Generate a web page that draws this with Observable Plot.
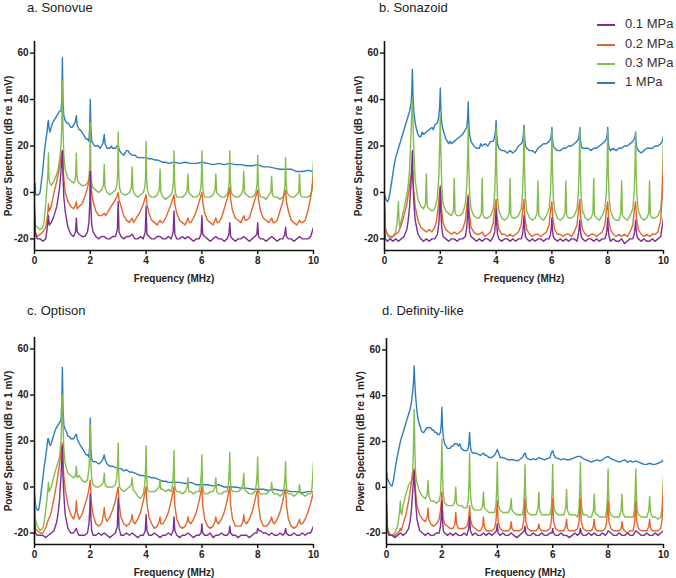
<!DOCTYPE html>
<html>
<head>
<meta charset="utf-8">
<script src="https://cdn.jsdelivr.net/npm/d3@7"></script>
<script src="https://cdn.jsdelivr.net/npm/@observablehq/plot@0.6"></script>
<style>
  html, body { margin: 0; padding: 0; background: #fff; }
  #fig { position: relative; width: 676px; height: 578px; background: #fff; overflow: hidden;
         font-family: "Liberation Sans", Arial, sans-serif; }
  .ttl { position: absolute; font-size: 13px; color: #222; line-height: 13px; white-space: nowrap; }
  .panel { position: absolute; }
  .leg { position: absolute; font-size: 13px; color: #333; line-height: 13px; white-space: nowrap; }
  .leg span { display: inline-block; width: 18px; height: 2px; vertical-align: middle; margin-right: 10px; }
</style>
</head>
<body>
<div id="fig"></div>
<script>
// ---------- labels / ticks ----------
const panelTitles = ["a. Sonovue", "b. Sonazoid", "c. Optison", "d. Definity-like"];
const seriesLabels = ["0.1 MPa", "0.2 MPa", "0.3 MPa", "1 MPa"];
const seriesColors = ["#7d2f8f", "#e2662c", "#83bd4d", "#2f7cbd"];
const xTicks = [0, 2, 4, 6, 8, 10];
const yTicks = [-20, 0, 20, 40, 60];
const xLabel = "Frequency (MHz)";
const yLabel = "Power Spectrum (dB re 1 mV)";

// ---------- a. Sonovue ----------
const sonovue01 = [[0,-8],[0.03,-18],[0.1,-20],[0.2,-20],[0.3,-21],[0.4,-20],[0.45,-16],[0.5,-10],[0.53,-14],[0.6,-13],[0.7,-10],[0.8,-6],[0.9,2],[0.95,9],[1.0,18],[1.03,4],[1.05,-2],[1.1,-8],[1.2,-15],[1.3,-18],[1.4,-19],[1.47,-17],[1.5,-11],[1.53,-17],[1.6,-18],[1.7,-19],[1.8,-19],[1.9,-17],[1.95,-13],[1.98,-5],[2.0,9],[2.02,-6],[2.05,-14],[2.1,-17],[2.2,-19],[2.3,-20],[2.4,-19],[2.5,-19],[2.6,-20],[2.7,-20],[2.8,-19],[2.9,-19],[2.97,-16],[3.0,-4],[3.03,-17],[3.1,-19],[3.2,-20],[3.3,-19],[3.4,-19],[3.5,-18],[3.6,-20],[3.7,-20],[3.8,-19],[3.9,-20],[3.97,-17],[4.0,-6],[4.03,-18],[4.1,-19],[4.2,-20],[4.3,-20],[4.4,-19],[4.5,-19],[4.6,-20],[4.7,-20],[4.8,-19],[4.9,-20],[4.97,-17],[5.0,-8],[5.03,-18],[5.1,-20],[5.2,-20],[5.3,-19],[5.4,-20],[5.5,-19],[5.6,-20],[5.7,-21],[5.8,-20],[5.9,-20],[5.97,-18],[6.0,-10],[6.03,-18],[6.1,-19],[6.2,-20],[6.3,-21],[6.4,-20],[6.5,-19],[6.6,-20],[6.7,-20],[6.8,-21],[6.9,-20],[6.97,-18],[7.0,-13],[7.03,-19],[7.1,-20],[7.2,-21],[7.3,-20],[7.4,-20],[7.5,-19],[7.6,-20],[7.7,-21],[7.8,-20],[7.9,-19],[7.97,-18],[8.0,-13],[8.03,-19],[8.1,-20],[8.2,-20],[8.3,-21],[8.4,-20],[8.5,-19],[8.6,-20],[8.7,-21],[8.8,-20],[8.9,-20],[8.97,-18],[9.0,-15],[9.03,-19],[9.1,-20],[9.2,-20],[9.3,-21],[9.4,-20],[9.5,-19],[9.6,-20],[9.7,-20],[9.8,-20],[9.9,-19],[10,-15]];
const sonovue02 = [[0,-10],[0.03,-17],[0.1,-19],[0.2,-18],[0.3,-17],[0.4,-15],[0.47,-10],[0.5,-5],[0.53,-8],[0.6,-6],[0.65,-3],[0.7,0],[0.8,5],[0.9,11],[0.95,15],[1.0,18],[1.03,10],[1.05,6],[1.1,0],[1.2,-4],[1.3,-6],[1.4,-7],[1.45,-6],[1.5,-4],[1.53,-7],[1.6,-6],[1.7,-5],[1.8,-2],[1.9,2],[1.95,5],[2.0,9],[2.03,3],[2.05,0],[2.1,-4],[2.2,-8],[2.3,-10],[2.4,-10],[2.5,-9],[2.55,-10],[2.6,-9],[2.7,-7],[2.8,-5],[2.9,-3],[2.95,-2],[3.0,0],[3.03,-3],[3.1,-6],[3.2,-10],[3.3,-12],[3.4,-13],[3.5,-11],[3.55,-13],[3.6,-12],[3.7,-10],[3.8,-8],[3.9,-5],[3.95,-3],[4.0,-1],[4.03,-5],[4.1,-9],[4.2,-12],[4.3,-13],[4.4,-14],[4.5,-12],[4.55,-13],[4.6,-13],[4.7,-11],[4.8,-8],[4.9,-5],[4.95,-3],[5.0,-1],[5.03,-5],[5.1,-9],[5.2,-12],[5.3,-13],[5.4,-14],[5.5,-11],[5.55,-13],[5.6,-13],[5.7,-11],[5.8,-8],[5.9,-4],[5.95,-2],[6.0,0],[6.03,-4],[6.1,-9],[6.2,-12],[6.3,-13],[6.4,-14],[6.5,-11],[6.55,-13],[6.6,-13],[6.7,-11],[6.8,-7],[6.9,-3],[6.95,-1],[7.0,2],[7.03,-3],[7.1,-8],[7.2,-11],[7.3,-12],[7.4,-13],[7.5,-10],[7.55,-12],[7.6,-12],[7.7,-11],[7.8,-7],[7.9,-3],[7.95,-1],[8.0,1],[8.03,-3],[8.1,-8],[8.2,-11],[8.3,-12],[8.4,-13],[8.5,-11],[8.55,-13],[8.6,-13],[8.7,-12],[8.8,-8],[8.9,-4],[8.95,-1],[9.0,1],[9.03,-4],[9.1,-8],[9.2,-12],[9.3,-13],[9.4,-14],[9.5,-12],[9.55,-13],[9.6,-13],[9.7,-12],[9.8,-8],[9.9,-2],[10,7]];
const sonovue03 = [[0,-5],[0.03,-14],[0.1,-15],[0.2,-16],[0.3,-15],[0.35,-12],[0.4,-5],[0.45,3],[0.48,8],[0.5,17],[0.52,6],[0.55,4],[0.6,3],[0.7,5],[0.8,8],[0.85,10],[0.9,14],[0.95,20],[0.98,30],[1.0,48],[1.02,28],[1.05,16],[1.1,10],[1.2,6],[1.3,5],[1.4,4],[1.45,5],[1.48,8],[1.5,17],[1.52,7],[1.55,5],[1.6,4],[1.7,3],[1.8,3],[1.9,4],[1.95,6],[1.98,12],[2.0,30],[2.02,10],[2.05,4],[2.1,2],[2.2,1],[2.3,0],[2.4,1],[2.47,3],[2.5,12],[2.53,2],[2.6,0],[2.7,-1],[2.8,0],[2.9,1],[2.95,3],[2.98,8],[3.0,26],[3.02,8],[3.05,2],[3.1,0],[3.2,-1],[3.3,-1],[3.4,0],[3.47,2],[3.5,11],[3.53,1],[3.6,-1],[3.7,-2],[3.8,-1],[3.9,0],[3.95,2],[3.98,6],[4.0,22],[4.02,6],[4.05,1],[4.1,-1],[4.2,-2],[4.3,-2],[4.4,-1],[4.47,1],[4.5,10],[4.53,0],[4.6,-2],[4.7,-3],[4.8,-2],[4.9,-1],[4.95,1],[4.98,5],[5.0,18],[5.02,5],[5.05,0],[5.1,-2],[5.2,-2],[5.3,-2],[5.4,-1],[5.47,1],[5.5,8],[5.53,0],[5.6,-1],[5.7,-2],[5.8,-2],[5.9,-1],[5.95,1],[5.98,5],[6.0,18],[6.02,5],[6.05,0],[6.1,-2],[6.2,-2],[6.3,-2],[6.4,-1],[6.47,1],[6.5,8],[6.53,0],[6.6,-1],[6.7,-2],[6.8,-2],[6.9,-1],[6.95,1],[6.98,5],[7.0,18],[7.02,5],[7.05,0],[7.1,-1],[7.2,-2],[7.3,-2],[7.4,-1],[7.47,1],[7.5,9],[7.53,0],[7.6,-1],[7.7,-2],[7.8,-2],[7.9,-1],[7.95,1],[7.98,4],[8.0,16],[8.02,4],[8.05,0],[8.1,-2],[8.2,-2],[8.3,-3],[8.4,-1],[8.47,0],[8.5,7],[8.53,-1],[8.6,-2],[8.7,-2],[8.8,-3],[8.9,-2],[8.95,0],[8.98,4],[9.0,15],[9.02,4],[9.05,0],[9.1,-1],[9.2,-2],[9.3,-2],[9.4,-1],[9.47,0],[9.5,8],[9.53,-1],[9.6,-2],[9.7,-2],[9.8,-2],[9.9,-1],[9.95,1],[10,14]];
const sonovue1 = [[0,-1],[0.02,4],[0.04,-1],[0.1,-1],[0.15,-1],[0.2,0],[0.25,5],[0.3,10],[0.35,17],[0.4,22],[0.45,26],[0.48,30],[0.5,31],[0.52,28],[0.55,26],[0.6,28],[0.65,30],[0.7,31],[0.75,32],[0.8,33],[0.85,34],[0.9,35],[0.95,35],[0.98,40],[1.0,58],[1.02,40],[1.05,33],[1.1,31],[1.15,30],[1.2,30],[1.25,29],[1.3,28],[1.35,28],[1.4,29],[1.45,30],[1.5,33],[1.53,29],[1.6,27],[1.65,27],[1.7,26],[1.75,25],[1.8,24],[1.85,23],[1.9,23],[1.95,22],[1.98,28],[2.0,40],[2.02,28],[2.05,22],[2.1,21],[2.15,20],[2.2,20],[2.3,20],[2.35,19],[2.4,20],[2.45,21],[2.5,25],[2.53,21],[2.6,19],[2.7,19],[2.75,20],[2.8,19],[2.9,19],[2.95,20],[3.0,20],[3.05,18],[3.1,17],[3.2,16],[3.25,17],[3.3,18],[3.35,18],[3.4,17],[3.5,16],[3.6,16],[3.7,15],[3.8,15],[3.9,15],[4.0,15],[4.1,14.5],[4.2,14.5],[4.3,14],[4.4,14],[4.5,13.5],[4.6,13],[4.7,13],[4.8,12.5],[5.0,13],[5.2,12.5],[5.4,13],[5.6,12.5],[5.8,12.5],[6.0,13],[6.2,12.5],[6.4,12],[6.6,12.5],[6.8,12],[7.0,12.5],[7.2,12],[7.4,12],[7.6,11.5],[7.8,11.5],[8.0,12],[8.2,11],[8.4,11],[8.6,10.5],[8.8,10],[9.0,10],[9.2,10],[9.4,9],[9.6,9],[9.8,9.5],[10,9]];

// ---------- b. Sonazoid ----------
const sonazoid01 = [[0,-16],[0.03,-20],[0.1,-21],[0.2,-20],[0.3,-21],[0.4,-20],[0.5,-21],[0.6,-20],[0.7,-19],[0.8,-16],[0.85,-12],[0.9,-6],[0.95,4],[1.0,18],[1.02,6],[1.05,-4],[1.1,-12],[1.2,-18],[1.3,-20],[1.4,-21],[1.5,-20],[1.6,-21],[1.7,-20],[1.8,-20],[1.9,-18],[1.95,-13],[1.98,-6],[2.0,2],[2.02,-8],[2.05,-15],[2.1,-19],[2.2,-20],[2.3,-21],[2.4,-20],[2.5,-20],[2.6,-21],[2.7,-20],[2.8,-20],[2.9,-19],[2.95,-15],[2.98,-9],[3.0,-2],[3.02,-10],[3.05,-17],[3.1,-19],[3.2,-20],[3.3,-21],[3.4,-20],[3.5,-21],[3.6,-20],[3.7,-20],[3.8,-21],[3.9,-19],[3.95,-17],[3.98,-12],[4.0,-7],[4.02,-13],[4.05,-18],[4.1,-20],[4.2,-21],[4.3,-20],[4.4,-20],[4.5,-21],[4.6,-20],[4.7,-21],[4.8,-20],[4.9,-20],[4.95,-18],[4.98,-14],[5.0,-10],[5.02,-15],[5.05,-19],[5.1,-20],[5.2,-21],[5.3,-20],[5.4,-21],[5.5,-20],[5.6,-20],[5.7,-21],[5.8,-20],[5.9,-20],[5.95,-18],[5.98,-15],[6.0,-11],[6.02,-16],[6.05,-19],[6.1,-20],[6.2,-21],[6.3,-20],[6.4,-21],[6.5,-20],[6.6,-21],[6.7,-20],[6.8,-20],[6.9,-21],[6.95,-18],[6.98,-15],[7.0,-12],[7.02,-16],[7.05,-19],[7.1,-20],[7.2,-21],[7.3,-20],[7.4,-20],[7.5,-21],[7.6,-20],[7.7,-21],[7.8,-20],[7.9,-20],[7.95,-18],[7.98,-15],[8.0,-11],[8.02,-16],[8.05,-19],[8.1,-21],[8.2,-20],[8.3,-21],[8.4,-21],[8.5,-20],[8.6,-22],[8.7,-21],[8.8,-20],[8.9,-20],[8.95,-18],[8.98,-15],[9.0,-12],[9.02,-16],[9.05,-19],[9.1,-20],[9.2,-21],[9.3,-20],[9.4,-21],[9.5,-21],[9.6,-20],[9.7,-21],[9.8,-20],[9.9,-19],[10,-11]];
const sonazoid02 = [[0,-5],[0.03,-16],[0.1,-18],[0.2,-19],[0.3,-19],[0.4,-18],[0.5,-17],[0.6,-14],[0.7,-10],[0.8,-5],[0.85,-1],[0.9,3],[0.95,7],[1.0,10],[1.03,4],[1.05,0],[1.1,-6],[1.2,-12],[1.3,-15],[1.4,-16],[1.5,-17],[1.6,-16],[1.7,-17],[1.8,-15],[1.85,-13],[1.9,-9],[1.95,-3],[2.0,3],[2.03,-4],[2.05,-8],[2.1,-13],[2.2,-16],[2.3,-17],[2.4,-18],[2.5,-17],[2.6,-18],[2.7,-17],[2.8,-16],[2.9,-12],[2.95,-6],[3.0,-1],[3.03,-8],[3.1,-15],[3.2,-17],[3.3,-18],[3.4,-18],[3.5,-17],[3.6,-19],[3.7,-18],[3.8,-17],[3.9,-13],[3.95,-7],[4.0,-3],[4.03,-10],[4.1,-16],[4.2,-18],[4.3,-18],[4.4,-19],[4.5,-18],[4.6,-19],[4.7,-18],[4.8,-17],[4.9,-14],[4.95,-8],[5.0,-3],[5.03,-11],[5.1,-16],[5.2,-18],[5.3,-19],[5.4,-18],[5.5,-18],[5.6,-19],[5.7,-18],[5.8,-17],[5.9,-14],[5.95,-8],[6.0,-4],[6.03,-11],[6.1,-16],[6.2,-18],[6.3,-18],[6.4,-19],[6.5,-18],[6.6,-18],[6.7,-19],[6.8,-17],[6.9,-14],[6.95,-8],[7.0,-3],[7.03,-11],[7.1,-16],[7.2,-18],[7.3,-19],[7.4,-18],[7.5,-18],[7.6,-19],[7.7,-18],[7.8,-17],[7.9,-14],[7.95,-8],[8.0,-4],[8.03,-11],[8.1,-16],[8.2,-18],[8.3,-19],[8.4,-18],[8.5,-19],[8.6,-18],[8.7,-19],[8.8,-17],[8.9,-14],[8.95,-8],[9.0,-4],[9.03,-11],[9.1,-16],[9.2,-18],[9.3,-19],[9.4,-18],[9.5,-19],[9.6,-18],[9.7,-18],[9.8,-17],[9.9,-12],[9.95,-2],[10,13]];
const sonazoid03 = [[0,-5],[0.03,-15],[0.1,-18],[0.2,-20],[0.3,-19],[0.4,-17],[0.45,-13],[0.48,-8],[0.5,-4],[0.52,-12],[0.55,-15],[0.6,-12],[0.7,-7],[0.8,-1],[0.85,3],[0.9,10],[0.95,25],[0.98,35],[1.0,40],[1.02,32],[1.05,18],[1.1,5],[1.2,-3],[1.3,-6],[1.4,-7],[1.47,-5],[1.5,8],[1.53,-6],[1.6,-7],[1.7,-8],[1.8,-7],[1.9,-2],[1.95,8],[1.98,22],[2.0,33],[2.02,18],[2.05,4],[2.1,-5],[2.2,-8],[2.3,-9],[2.4,-10],[2.47,-8],[2.5,6],[2.53,-9],[2.6,-10],[2.7,-10],[2.8,-9],[2.9,-5],[2.95,3],[2.98,15],[3.0,28],[3.02,12],[3.05,0],[3.1,-7],[3.2,-10],[3.3,-11],[3.4,-11],[3.47,-9],[3.5,6],[3.53,-10],[3.6,-11],[3.7,-11],[3.8,-10],[3.9,-7],[3.95,0],[3.98,12],[4.0,28],[4.02,10],[4.05,-2],[4.1,-8],[4.2,-11],[4.3,-12],[4.4,-11],[4.47,-9],[4.5,6],[4.53,-10],[4.6,-11],[4.7,-11],[4.8,-10],[4.9,-7],[4.95,0],[4.98,12],[5.0,28],[5.02,10],[5.05,-2],[5.1,-8],[5.2,-11],[5.3,-12],[5.4,-11],[5.47,-9],[5.5,5],[5.53,-10],[5.6,-11],[5.7,-12],[5.8,-10],[5.9,-7],[5.95,0],[5.98,12],[6.0,27],[6.02,10],[6.05,-2],[6.1,-8],[6.2,-11],[6.3,-12],[6.4,-11],[6.47,-9],[6.5,5],[6.53,-10],[6.6,-11],[6.7,-11],[6.8,-10],[6.9,-7],[6.95,0],[6.98,12],[7.0,28],[7.02,10],[7.05,-2],[7.1,-8],[7.2,-11],[7.3,-12],[7.4,-11],[7.47,-9],[7.5,6],[7.53,-10],[7.6,-11],[7.7,-12],[7.8,-10],[7.9,-7],[7.95,0],[7.98,12],[8.0,27],[8.02,10],[8.05,-2],[8.1,-8],[8.2,-11],[8.3,-12],[8.4,-12],[8.47,-9],[8.5,5],[8.53,-10],[8.6,-11],[8.7,-12],[8.8,-10],[8.9,-7],[8.95,0],[8.98,12],[9.0,26],[9.02,9],[9.05,-2],[9.1,-8],[9.2,-11],[9.3,-12],[9.4,-11],[9.47,-9],[9.5,5],[9.53,-10],[9.6,-11],[9.7,-11],[9.8,-10],[9.9,-7],[9.95,0],[10,24]];
const sonazoid1 = [[0,-1],[0.05,-3],[0.1,-4],[0.15,-3],[0.2,0],[0.25,4],[0.3,8],[0.35,12],[0.4,15],[0.5,19],[0.6,23],[0.7,27],[0.8,31],[0.85,33],[0.9,35],[0.95,38],[0.98,44],[1.0,53],[1.02,42],[1.05,35],[1.1,30],[1.15,27],[1.2,25],[1.25,24],[1.3,24],[1.35,26],[1.4,25],[1.5,26],[1.6,27],[1.7,28],[1.75,27],[1.8,29],[1.9,30],[1.95,33],[1.98,38],[2.0,45],[2.02,36],[2.05,30],[2.1,27],[2.15,25],[2.2,23],[2.3,21],[2.35,22],[2.4,21],[2.5,22],[2.6,23],[2.7,24],[2.8,25],[2.9,27],[2.95,28],[2.98,32],[3.0,39],[3.02,30],[3.05,25],[3.1,22],[3.2,20],[3.3,19],[3.4,19],[3.45,21],[3.5,20],[3.6,21],[3.7,20],[3.8,22],[3.9,22],[3.95,24],[3.98,27],[4.0,31],[4.02,25],[4.05,21],[4.1,19],[4.2,18],[4.3,18],[4.4,17],[4.5,18],[4.6,17],[4.7,18],[4.8,20],[4.9,21],[4.95,22],[4.98,25],[5.0,29],[5.02,24],[5.05,20],[5.1,19],[5.2,18],[5.3,18],[5.4,17],[5.5,19],[5.6,20],[5.7,21],[5.8,21],[5.9,22],[5.95,23],[5.98,25],[6.0,28],[6.02,23],[6.05,20],[6.1,19],[6.2,18],[6.3,18],[6.4,19],[6.5,19],[6.6,20],[6.7,20],[6.8,21],[6.9,22],[6.95,23],[6.98,25],[7.0,28],[7.02,23],[7.05,20],[7.1,19],[7.2,19],[7.3,19],[7.4,18],[7.5,19],[7.6,19],[7.7,20],[7.8,21],[7.9,22],[7.95,23],[7.98,25],[8.0,28],[8.02,22],[8.05,19],[8.1,18],[8.2,19],[8.3,18],[8.4,19],[8.5,19],[8.6,20],[8.7,20],[8.8,21],[8.9,22],[8.95,23],[8.98,24],[9.0,26],[9.02,21],[9.05,19],[9.1,18],[9.2,17],[9.3,18],[9.4,19],[9.5,19],[9.6,19],[9.7,20],[9.8,20],[9.9,21],[9.95,22],[10,24]];

// ---------- c. Optison ----------
const optison01 = [[0,-14],[0.03,-20],[0.1,-21],[0.2,-21],[0.3,-21],[0.4,-22],[0.5,-21],[0.6,-20],[0.7,-19],[0.8,-15],[0.85,-11],[0.9,-5],[0.95,5],[1.0,18],[1.02,5],[1.05,-3],[1.1,-12],[1.2,-18],[1.3,-20],[1.4,-20],[1.5,-18],[1.55,-20],[1.6,-21],[1.7,-21],[1.8,-21],[1.9,-20],[1.95,-16],[1.98,-10],[2.0,-3],[2.02,-13],[2.05,-19],[2.1,-21],[2.2,-21],[2.3,-20],[2.4,-21],[2.5,-20],[2.6,-21],[2.7,-22],[2.8,-21],[2.9,-20],[2.97,-17],[3.0,-5],[3.03,-18],[3.1,-21],[3.2,-21],[3.3,-20],[3.4,-21],[3.5,-20],[3.6,-21],[3.7,-22],[3.8,-21],[3.9,-21],[3.97,-19],[4.0,-12],[4.03,-19],[4.1,-21],[4.2,-21],[4.3,-20],[4.4,-21],[4.5,-22],[4.6,-21],[4.7,-21],[4.8,-20],[4.9,-21],[4.97,-19],[5.0,-13],[5.03,-19],[5.1,-21],[5.2,-22],[5.3,-21],[5.4,-21],[5.5,-20],[5.6,-21],[5.7,-22],[5.8,-21],[5.9,-21],[5.97,-20],[6.0,-16],[6.03,-20],[6.1,-21],[6.2,-21],[6.3,-20],[6.4,-22],[6.5,-21],[6.6,-21],[6.7,-20],[6.8,-21],[6.9,-21],[6.97,-20],[7.0,-17],[7.03,-20],[7.1,-21],[7.2,-21],[7.3,-22],[7.4,-21],[7.5,-21],[7.6,-21],[7.7,-22],[7.8,-21],[7.9,-20],[7.97,-20],[8.0,-18],[8.05,-19],[8.1,-19],[8.2,-20],[8.3,-20],[8.4,-21],[8.5,-20],[8.6,-21],[8.7,-21],[8.8,-20],[8.9,-21],[8.97,-20],[9.0,-18],[9.03,-20],[9.1,-21],[9.2,-21],[9.3,-20],[9.4,-21],[9.5,-21],[9.6,-20],[9.7,-21],[9.8,-20],[9.9,-20],[10,-17]];
const optison02 = [[0,-15],[0.03,-18],[0.1,-19],[0.2,-20],[0.3,-20],[0.4,-18],[0.45,-16],[0.5,-14],[0.55,-13],[0.6,-11],[0.7,-5],[0.8,2],[0.9,10],[0.95,15],[1.0,19],[1.03,10],[1.05,5],[1.1,-1],[1.2,-8],[1.3,-12],[1.4,-14],[1.47,-11],[1.5,-6],[1.53,-11],[1.6,-14],[1.7,-12],[1.8,-8],[1.9,-4],[1.95,-1],[2.0,3],[2.03,-5],[2.05,-8],[2.1,-12],[2.2,-16],[2.3,-17],[2.4,-16],[2.47,-12],[2.5,-9],[2.53,-13],[2.6,-15],[2.7,-13],[2.8,-10],[2.9,-6],[2.95,-3],[3.0,0],[3.03,-7],[3.1,-13],[3.2,-16],[3.3,-17],[3.4,-16],[3.47,-14],[3.5,-12],[3.53,-15],[3.6,-16],[3.7,-14],[3.8,-11],[3.9,-6],[3.95,-3],[4.0,0],[4.03,-7],[4.1,-13],[4.2,-16],[4.3,-18],[4.4,-17],[4.47,-15],[4.5,-13],[4.53,-16],[4.6,-16],[4.7,-14],[4.8,-11],[4.9,-6],[4.95,-3],[5.0,0],[5.03,-8],[5.1,-14],[5.2,-17],[5.3,-18],[5.4,-17],[5.47,-15],[5.5,-13],[5.53,-15],[5.6,-16],[5.7,-14],[5.8,-11],[5.9,-6],[5.95,-3],[6.0,0],[6.03,-8],[6.1,-14],[6.2,-17],[6.3,-18],[6.4,-17],[6.47,-15],[6.5,-13],[6.53,-15],[6.6,-16],[6.7,-14],[6.8,-11],[6.9,-6],[6.95,-3],[7.0,0],[7.03,-8],[7.1,-14],[7.2,-17],[7.3,-17],[7.4,-17],[7.47,-15],[7.5,-12],[7.53,-15],[7.6,-16],[7.7,-14],[7.8,-11],[7.9,-6],[7.95,-3],[8.0,-1],[8.03,-8],[8.1,-14],[8.2,-17],[8.3,-17],[8.4,-16],[8.47,-14],[8.5,-13],[8.53,-15],[8.6,-16],[8.7,-14],[8.8,-11],[8.9,-6],[8.95,-3],[9.0,-1],[9.03,-8],[9.1,-14],[9.2,-17],[9.3,-18],[9.4,-17],[9.47,-15],[9.5,-14],[9.53,-16],[9.6,-16],[9.7,-14],[9.8,-11],[9.9,-7],[10,-2]];
const optison03 = [[0,-5],[0.03,-14],[0.1,-17],[0.2,-19],[0.3,-18],[0.35,-15],[0.4,-10],[0.45,-5],[0.5,2],[0.53,-2],[0.6,0],[0.7,5],[0.8,9],[0.9,13],[0.95,20],[0.98,30],[1.0,40],[1.02,28],[1.05,17],[1.1,10],[1.2,6],[1.3,5],[1.4,4],[1.47,5],[1.5,9],[1.53,4],[1.6,5],[1.7,3],[1.8,2],[1.9,3],[1.95,8],[1.98,15],[2.0,27],[2.02,10],[2.05,4],[2.1,1],[2.2,0],[2.3,0],[2.4,1],[2.47,2],[2.5,6],[2.53,1],[2.6,0],[2.7,0],[2.8,0],[2.9,1],[2.95,4],[2.98,10],[3.0,19],[3.02,5],[3.05,0],[3.1,-1],[3.2,-2],[3.3,-1],[3.4,0],[3.47,1],[3.5,4],[3.53,-1],[3.6,-2],[3.7,-4],[3.8,-5],[3.9,-3],[3.95,1],[3.98,8],[4.0,18],[4.02,4],[4.05,-1],[4.1,-2],[4.2,-2],[4.3,-2],[4.4,-1],[4.47,0],[4.5,3],[4.53,-1],[4.6,-1],[4.7,-2],[4.8,-1],[4.9,-2],[4.95,1],[4.98,7],[5.0,16],[5.02,3],[5.05,-1],[5.1,-2],[5.2,-2],[5.3,-3],[5.4,-2],[5.47,0],[5.5,4],[5.53,-2],[5.6,-2],[5.7,-3],[5.8,-2],[5.9,-2],[5.95,1],[5.98,6],[6.0,14],[6.02,2],[6.05,-2],[6.1,-3],[6.2,-3],[6.3,-2],[6.4,-2],[6.47,0],[6.5,4],[6.53,-2],[6.6,-3],[6.7,-3],[6.8,-2],[6.9,-2],[6.95,1],[6.98,7],[7.0,15],[7.02,3],[7.05,-1],[7.1,-2],[7.2,-2],[7.3,-2],[7.4,-1],[7.47,1],[7.5,6],[7.53,-1],[7.6,-2],[7.7,-3],[7.8,-3],[7.9,-2],[7.95,1],[7.98,6],[8.0,13],[8.02,2],[8.05,-2],[8.1,-3],[8.2,-3],[8.3,-3],[8.4,-2],[8.47,-1],[8.5,2],[8.53,-2],[8.6,-3],[8.7,-3],[8.8,-4],[8.9,-3],[8.95,0],[8.98,5],[9.0,11],[9.02,1],[9.05,-2],[9.1,-3],[9.2,-3],[9.3,-4],[9.4,-3],[9.47,-2],[9.5,1],[9.53,-3],[9.6,-3],[9.7,-4],[9.8,-3],[9.9,-3],[9.95,0],[10,11]];
const optison1 = [[0,-3],[0.03,-7],[0.06,-9],[0.1,-10],[0.15,-10],[0.2,-6],[0.25,-1],[0.3,4],[0.35,9],[0.4,13],[0.45,18],[0.48,21],[0.5,21],[0.53,19],[0.57,18],[0.6,19],[0.65,21],[0.7,23],[0.75,25],[0.8,26],[0.85,27],[0.9,28],[0.95,29],[0.98,36],[1.0,52],[1.02,35],[1.05,27],[1.1,25],[1.15,24],[1.2,22],[1.25,22],[1.3,21],[1.35,21],[1.4,21],[1.45,22],[1.5,23],[1.53,21],[1.6,19],[1.65,18],[1.7,17],[1.75,16],[1.8,15],[1.85,14],[1.9,14],[1.95,13],[1.98,18],[2.0,30],[2.02,17],[2.05,12],[2.1,11],[2.2,11],[2.3,10],[2.4,11],[2.45,12],[2.5,14],[2.53,12],[2.6,10],[2.7,9],[2.8,9],[2.9,8.5],[3.0,8],[3.1,8],[3.2,7],[3.3,7.5],[3.4,6.5],[3.5,6.5],[3.6,6],[3.7,5.5],[3.8,5],[3.9,5],[4.0,4.5],[4.1,4.5],[4.2,4],[4.3,4],[4.4,3.5],[4.5,3],[4.6,2.5],[4.7,2.5],[4.8,2],[4.9,2],[5.0,2],[5.2,2],[5.4,1.5],[5.6,2],[5.8,1],[6.0,1],[6.2,1],[6.4,0.5],[6.6,1],[6.8,0],[7.0,0],[7.2,0],[7.4,-0.5],[7.6,-0.5],[7.8,-1],[8.0,-1],[8.2,-1],[8.4,-1.5],[8.6,-1],[8.8,-1.5],[9.0,-1.5],[9.2,-2],[9.4,-2],[9.6,-2.5],[9.8,-2],[10,-2]];

// ---------- d. Definity-like ----------
const definity01 = [[0,-6],[0.03,-19],[0.1,-21],[0.2,-21],[0.3,-22],[0.4,-21],[0.5,-20],[0.6,-21],[0.7,-20],[0.8,-18],[0.85,-15],[0.9,-10],[0.95,-1],[1.0,7],[1.02,0],[1.05,-6],[1.1,-14],[1.2,-19],[1.3,-20],[1.4,-21],[1.5,-20],[1.6,-21],[1.7,-21],[1.8,-20],[1.9,-20],[1.95,-17],[1.98,-12],[2.0,-6],[2.02,-14],[2.05,-19],[2.1,-20],[2.2,-21],[2.3,-20],[2.4,-21],[2.5,-20],[2.6,-21],[2.7,-21],[2.8,-20],[2.9,-21],[2.97,-18],[3.0,-13],[3.03,-19],[3.1,-21],[3.2,-20],[3.3,-21],[3.4,-21],[3.5,-20],[3.6,-21],[3.7,-20],[3.8,-21],[3.9,-20],[3.97,-19],[4.0,-16],[4.03,-20],[4.1,-21],[4.2,-20],[4.3,-21],[4.4,-21],[4.5,-20],[4.6,-21],[4.7,-22],[4.8,-21],[4.9,-20],[4.97,-19],[5.0,-17],[5.03,-20],[5.1,-21],[5.2,-21],[5.3,-20],[5.4,-21],[5.5,-21],[5.6,-20],[5.7,-21],[5.8,-21],[5.9,-20],[5.97,-20],[6.0,-18],[6.03,-20],[6.1,-21],[6.2,-21],[6.3,-20],[6.4,-21],[6.5,-21],[6.6,-22],[6.7,-21],[6.8,-20],[6.9,-21],[6.97,-20],[7.0,-18],[7.03,-20],[7.1,-21],[7.2,-21],[7.3,-20],[7.4,-21],[7.5,-20],[7.6,-21],[7.7,-21],[7.8,-20],[7.9,-21],[7.97,-20],[8.0,-19],[8.1,-20],[8.2,-21],[8.3,-21],[8.4,-20],[8.5,-21],[8.6,-21],[8.7,-20],[8.8,-21],[8.9,-21],[9.0,-19],[9.1,-20],[9.2,-21],[9.3,-21],[9.4,-20],[9.5,-21],[9.6,-21],[9.7,-20],[9.8,-21],[9.9,-20],[10,-19]];
const definity02 = [[0,-14],[0.03,-19],[0.1,-21],[0.2,-21],[0.3,-21],[0.4,-20],[0.47,-19],[0.5,-18],[0.53,-19],[0.6,-16],[0.7,-12],[0.8,-6],[0.85,-2],[0.9,2],[0.95,5],[1.0,8],[1.03,2],[1.05,-2],[1.1,-8],[1.2,-12],[1.3,-14],[1.4,-15],[1.47,-13],[1.5,-9],[1.53,-14],[1.6,-16],[1.7,-17],[1.8,-16],[1.9,-14],[1.95,-10],[1.98,-6],[2.0,-2],[2.02,-9],[2.05,-14],[2.1,-16],[2.2,-17],[2.3,-18],[2.4,-18],[2.47,-16],[2.5,-11],[2.53,-16],[2.6,-18],[2.7,-18],[2.8,-18],[2.9,-17],[2.95,-15],[2.98,-12],[3.0,-8],[3.03,-14],[3.1,-17],[3.2,-18],[3.3,-19],[3.4,-19],[3.47,-17],[3.5,-13],[3.53,-17],[3.6,-19],[3.7,-19],[3.8,-19],[3.9,-18],[3.95,-15],[4.0,-6],[4.03,-15],[4.1,-18],[4.2,-19],[4.3,-19],[4.4,-19],[4.47,-18],[4.5,-15],[4.53,-18],[4.6,-19],[4.7,-19],[4.8,-19],[4.9,-18],[4.95,-15],[5.0,-5],[5.03,-15],[5.1,-18],[5.2,-19],[5.3,-19],[5.4,-19],[5.47,-18],[5.5,-16],[5.53,-18],[5.6,-19],[5.7,-19],[5.8,-19],[5.9,-18],[5.95,-15],[6.0,-5],[6.03,-15],[6.1,-18],[6.2,-19],[6.3,-19],[6.4,-19],[6.47,-17],[6.5,-14],[6.53,-18],[6.6,-19],[6.7,-19],[6.8,-19],[6.9,-18],[6.95,-15],[7.0,-5],[7.03,-15],[7.1,-18],[7.2,-19],[7.3,-19],[7.4,-19],[7.47,-17],[7.5,-14],[7.53,-18],[7.6,-19],[7.7,-19],[7.8,-19],[7.9,-18],[7.95,-15],[8.0,-6],[8.03,-15],[8.1,-18],[8.2,-19],[8.3,-19],[8.4,-19],[8.47,-18],[8.5,-15],[8.53,-18],[8.6,-19],[8.7,-20],[8.8,-19],[8.9,-19],[8.95,-16],[9.0,-6],[9.03,-15],[9.1,-18],[9.2,-19],[9.3,-19],[9.4,-19],[9.47,-17],[9.5,-14],[9.53,-18],[9.6,-19],[9.7,-19],[9.8,-19],[9.9,-18],[9.95,-14],[10,1.5]];
const definity03 = [[0,-8],[0.03,-17],[0.1,-20],[0.2,-21],[0.3,-20],[0.4,-17],[0.45,-13],[0.48,-9],[0.5,-6],[0.52,-11],[0.55,-12],[0.6,-8],[0.7,-3],[0.8,1],[0.85,2],[0.9,3],[0.95,8],[0.98,20],[1.0,34],[1.02,18],[1.05,6],[1.1,2],[1.2,-2],[1.3,-4],[1.4,-5],[1.47,-3],[1.5,3],[1.53,-4],[1.6,-6],[1.7,-6],[1.8,-7],[1.9,-6],[1.95,-3],[1.98,8],[2.0,21],[2.02,5],[2.05,-3],[2.1,-7],[2.2,-8],[2.3,-8],[2.4,-8],[2.47,-6],[2.5,0],[2.53,-7],[2.6,-8],[2.7,-8],[2.8,-9],[2.9,-9],[2.95,-6],[2.98,3],[3.0,15],[3.02,0],[3.05,-6],[3.1,-9],[3.2,-10],[3.3,-10],[3.4,-10],[3.47,-8],[3.5,-2],[3.53,-9],[3.6,-10],[3.7,-11],[3.8,-11],[3.9,-11],[3.95,-8],[3.98,0],[4.0,11],[4.02,-2],[4.05,-8],[4.1,-10],[4.2,-11],[4.3,-11],[4.4,-11],[4.47,-9],[4.5,-5],[4.53,-10],[4.6,-11],[4.7,-12],[4.8,-12],[4.9,-12],[4.95,-9],[4.98,-1],[5.0,10],[5.02,-2],[5.05,-9],[5.1,-11],[5.2,-12],[5.3,-12],[5.4,-12],[5.47,-9],[5.5,-2],[5.53,-10],[5.6,-12],[5.7,-12],[5.8,-12],[5.9,-12],[5.95,-9],[5.98,-1],[6.0,10],[6.02,-2],[6.05,-9],[6.1,-11],[6.2,-12],[6.3,-12],[6.4,-12],[6.47,-9],[6.5,-1],[6.53,-10],[6.6,-12],[6.7,-12],[6.8,-12],[6.9,-13],[6.95,-9],[6.98,-1],[7.0,11],[7.02,-2],[7.05,-9],[7.1,-12],[7.2,-12],[7.3,-13],[7.4,-13],[7.47,-10],[7.5,-3],[7.53,-11],[7.6,-12],[7.7,-13],[7.8,-13],[7.9,-13],[7.95,-10],[7.98,-2],[8.0,8],[8.02,-3],[8.05,-10],[8.1,-12],[8.2,-13],[8.3,-13],[8.4,-13],[8.47,-10],[8.5,-3],[8.53,-11],[8.6,-13],[8.7,-13],[8.8,-13],[8.9,-13],[8.95,-10],[8.98,-2],[9.0,8],[9.02,-3],[9.05,-10],[9.1,-12],[9.2,-13],[9.3,-13],[9.4,-13],[9.47,-10],[9.5,-4],[9.53,-11],[9.6,-13],[9.7,-13],[9.8,-14],[9.9,-13],[9.95,-9],[10,5]];
const definity1 = [[0,7],[0.03,4],[0.06,3],[0.1,2],[0.15,1],[0.2,0.5],[0.25,3],[0.3,7],[0.35,11],[0.4,14],[0.45,17],[0.5,20],[0.55,22],[0.6,24],[0.65,26],[0.7,28],[0.75,30],[0.8,32],[0.85,34],[0.9,37],[0.95,42],[0.98,47],[1.0,53],[1.02,46],[1.05,40],[1.1,33],[1.15,29],[1.2,27],[1.25,25],[1.3,24],[1.35,24],[1.4,25],[1.45,26],[1.5,26],[1.55,26],[1.6,26],[1.65,25],[1.7,25],[1.75,24],[1.8,24],[1.85,23],[1.9,23],[1.95,24],[1.98,28],[2.0,35],[2.02,27],[2.05,22],[2.1,19],[2.15,18],[2.2,17],[2.3,17],[2.35,18],[2.4,18],[2.45,19],[2.5,19],[2.55,19],[2.6,18],[2.65,19],[2.7,17],[2.8,16],[2.9,16],[2.95,17],[2.98,20],[3.0,24],[3.02,19],[3.05,16],[3.1,15],[3.2,15],[3.3,14.5],[3.4,14],[3.5,15],[3.55,14],[3.6,14],[3.7,13],[3.8,13],[3.9,14],[3.95,15],[4.0,16.5],[4.05,15],[4.1,13],[4.2,13],[4.3,12.5],[4.4,12],[4.5,12],[4.6,12],[4.7,11.5],[4.8,12],[4.9,13],[4.95,14],[5.0,15],[5.05,13],[5.1,12.5],[5.2,12],[5.3,12.5],[5.4,12],[5.5,13],[5.6,12.5],[5.7,12],[5.8,12.5],[5.9,13],[5.95,15],[6.0,16],[6.05,14],[6.1,13],[6.2,12.5],[6.3,12],[6.4,12.5],[6.5,12],[6.6,12],[6.7,12.5],[6.8,13],[6.9,13.5],[7.0,13.5],[7.1,12.5],[7.2,12],[7.3,11.5],[7.4,11],[7.5,11.5],[7.6,12],[7.7,11.5],[7.8,12],[7.9,13],[8.0,13.5],[8.1,12.5],[8.2,12],[8.3,11.5],[8.4,11],[8.5,11.5],[8.6,12],[8.7,11],[8.8,11.5],[8.9,11],[9.0,11.5],[9.1,11],[9.2,10.5],[9.3,10],[9.4,10],[9.5,10.5],[9.6,10],[9.7,10],[9.8,10.5],[9.9,11],[10,12]];

// ---------- assembly ----------
const panelSeries = [
  [sonovue01, sonovue02, sonovue03, sonovue1],
  [sonazoid01, sonazoid02, sonazoid03, sonazoid1],
  [optison01, optison02, optison03, optison1],
  [definity01, definity02, definity03, definity1]
];
const panelBoxes = [
  {left: 0,   top: 0,   width: 338, height: 290, mL: 34, mR: 25, mT: 41, mB: 40, tx: 27,  ty: 1},
  {left: 338, top: 0,   width: 338, height: 290, mL: 46, mR: 13, mT: 41, mB: 40, tx: 379, ty: 1},
  {left: 0,   top: 290, width: 338, height: 288, mL: 34, mR: 25, mT: 47, mB: 34, tx: 27,  ty: 304},
  {left: 338, top: 290, width: 338, height: 288, mL: 48, mR: 13, mT: 48, mB: 34, tx: 382, ty: 304}
];

const fig = document.getElementById("fig");
const font = '"Liberation Sans", Arial, sans-serif';

panelBoxes.forEach((b, i) => {
  const series = panelSeries[i];
  const order = [3, 2, 1, 0]; // 1 MPa at back, 0.1 MPa on top
  const chart = Plot.plot({
    width: b.width, height: b.height,
    marginLeft: b.mL, marginRight: b.mR, marginTop: b.mT, marginBottom: b.mB,
    style: {fontFamily: font, fontSize: "10px", fontWeight: "bold", color: "#222", background: "transparent", overflow: "visible"},
    x: {domain: [0, 10]},
    y: {domain: [-25, 65]},
    marks: [
      ...order.map(k => Plot.line(series[k], {x: d => d[0], y: d => d[1], stroke: seriesColors[k], strokeWidth: 1.4, clip: true})),
      Plot.axisX({ticks: xTicks, tickSize: 4, tickPadding: 2, tickFormat: d => String(d), label: xLabel, labelAnchor: "center", labelOffset: 31, labelArrow: "none", stroke: "#111", strokeWidth: 1.4}),
      Plot.axisY({ticks: yTicks, tickSize: 4, tickPadding: 2, tickFormat: d => String(d), label: yLabel, labelAnchor: "center", labelOffset: 30, labelArrow: "none", stroke: "#111", strokeWidth: 1.4}),
      Plot.ruleX([0], {stroke: "#111", strokeWidth: 1.6}),
      Plot.ruleY([-25], {stroke: "#111", strokeWidth: 1.6})
    ]
  });
  const wrap = document.createElement("div");
  wrap.className = "panel";
  wrap.style.left = b.left + "px";
  wrap.style.top = b.top + "px";
  wrap.appendChild(chart);
  fig.appendChild(wrap);

  const t = document.createElement("div");
  t.className = "ttl";
  t.style.left = b.tx + "px";
  t.style.top = b.ty + "px";
  t.textContent = panelTitles[i];
  fig.appendChild(t);
});

// legend
const legendTops = [17, 37, 56, 75];
seriesLabels.forEach((lab, k) => {
  const d = document.createElement("div");
  d.className = "leg";
  d.style.left = "597px";
  d.style.top = legendTops[k] + "px";
  const sw = document.createElement("span");
  sw.style.background = seriesColors[k];
  d.appendChild(sw);
  d.appendChild(document.createTextNode(lab));
  fig.appendChild(d);
});
</script>
</body>
</html>
